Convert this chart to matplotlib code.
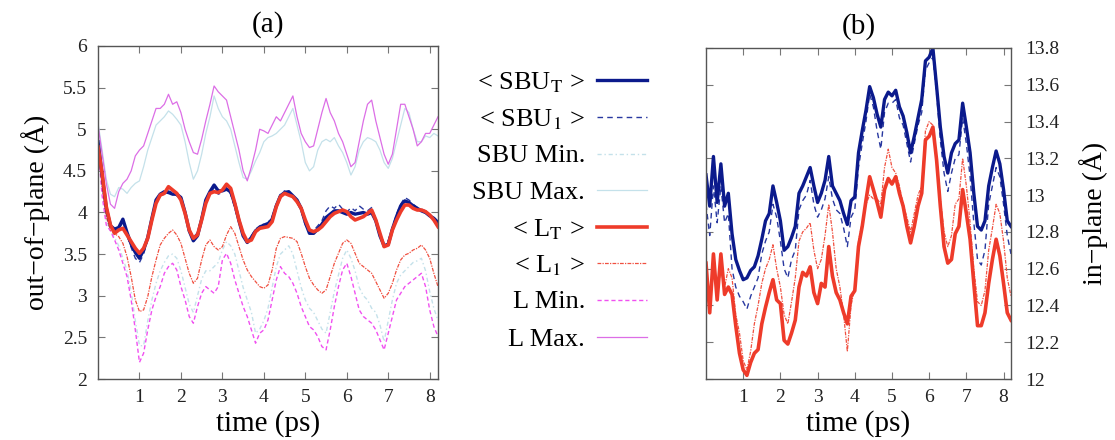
import numpy as np
import matplotlib
matplotlib.use("Agg")
import matplotlib.pyplot as plt
from matplotlib.lines import Line2D
from matplotlib.ticker import FixedLocator, FuncFormatter

plt.rcParams['font.family'] = ['Liberation Serif', 'DejaVu Serif']
plt.rcParams['mathtext.fontset'] = 'stix'

# time axis (ps), 0.1 ps sampling
time = np.round(np.arange(0, 8.21, 0.1), 1)

# ---------------- panel (a): out-of-plane ----------------
a_sbu_T = [4.85, 4.45, 4.05, 3.84, 3.80, 3.82, 3.92, 3.76, 3.62, 3.52,
           3.45, 3.55, 3.70, 3.93, 4.15, 4.22, 4.25, 4.24, 4.22, 4.22,
           4.18, 4.00, 3.78, 3.66, 3.72, 3.92, 4.15, 4.25, 4.33, 4.26,
           4.26, 4.28, 4.25, 4.10, 3.90, 3.72, 3.64, 3.70, 3.78, 3.82,
           3.85, 3.86, 3.92, 4.08, 4.20, 4.24, 4.25, 4.20, 4.15, 4.05,
           3.88, 3.75, 3.75, 3.80, 3.86, 3.94, 3.98, 4.02, 4.02, 4.00,
           3.98, 4.00, 3.98, 3.99, 4.00, 3.98, 4.00, 3.90, 3.72, 3.60,
           3.62, 3.80, 3.95, 4.08, 4.14, 4.12, 4.08, 4.05, 4.02, 4.00,
           3.96, 3.93, 3.88]
a_sbu_1 = [4.82, 4.40, 4.02, 3.82, 3.78, 3.80, 3.88, 3.72, 3.58, 3.45,
           3.40, 3.50, 3.68, 3.92, 4.12, 4.20, 4.22, 4.26, 4.24, 4.20,
           4.16, 3.98, 3.80, 3.70, 3.76, 3.95, 4.12, 4.22, 4.30, 4.22,
           4.24, 4.30, 4.22, 4.05, 3.88, 3.74, 3.66, 3.72, 3.80, 3.84,
           3.86, 3.88, 3.95, 4.10, 4.22, 4.26, 4.22, 4.18, 4.12, 4.02,
           3.85, 3.76, 3.78, 3.84, 3.90, 4.02, 4.08, 4.05, 4.10, 4.04,
           4.00, 4.06, 4.02, 4.08, 4.04, 4.02, 4.06, 3.92, 3.75, 3.62,
           3.66, 3.82, 3.98, 4.10, 4.18, 4.15, 4.10, 4.06, 4.04, 4.02,
           3.98, 3.92, 3.86]
a_sbu_min = [4.80, 4.30, 3.90, 3.78, 3.70, 3.60, 3.45, 3.30, 3.05, 2.70,
             2.40, 2.40, 2.70, 2.95, 3.15, 3.30, 3.40, 3.48, 3.50, 3.45,
             3.30, 3.10, 2.90, 2.80, 3.00, 3.20, 3.30, 3.30, 3.35, 3.40,
             3.55, 3.65, 3.60, 3.50, 3.30, 3.10, 2.95, 2.80, 2.55, 2.60,
             2.70, 2.85, 3.10, 3.35, 3.50, 3.55, 3.60, 3.50, 3.30, 3.10,
             2.95, 2.85, 2.80, 2.70, 2.60, 2.55, 2.80, 3.05, 3.25, 3.45,
             3.55, 3.45, 3.30, 3.10, 3.00, 2.95, 2.85, 2.80, 2.65, 2.45,
             2.70, 2.95, 3.15, 3.25, 3.30, 3.35, 3.40, 3.42, 3.45, 3.30,
             3.05, 2.85, 2.70]
a_sbu_max = [5.08, 4.75, 4.40, 4.22, 4.19, 4.30, 4.28, 4.23, 4.30, 4.35,
             4.38, 4.55, 4.75, 4.90, 5.05, 5.10, 5.15, 5.22, 5.18, 5.12,
             5.05, 4.85, 4.60, 4.40, 4.50, 4.70, 4.95, 5.15, 5.40, 5.25,
             5.15, 5.10, 5.00, 4.80, 4.60, 4.42, 4.40, 4.50, 4.62, 4.72,
             4.85, 4.90, 4.92, 4.95, 5.00, 5.05, 5.15, 5.25, 5.05, 4.85,
             4.60, 4.50, 4.55, 4.75, 4.85, 4.88, 4.85, 4.90, 4.80, 4.72,
             4.60, 4.45, 4.55, 4.75, 4.85, 4.90, 4.88, 4.85, 4.75, 4.60,
             4.53, 4.65, 4.85, 5.05, 5.25, 5.20, 5.00, 4.85, 4.85, 4.92,
             4.90, 4.95, 4.92]
a_L_T = [4.79, 4.47, 4.07, 3.85, 3.75, 3.79, 3.81, 3.73, 3.65, 3.57,
         3.51, 3.57, 3.69, 3.91, 4.11, 4.21, 4.23, 4.31, 4.27, 4.23,
         4.15, 3.99, 3.79, 3.69, 3.73, 3.91, 4.11, 4.23, 4.25, 4.24,
         4.27, 4.34, 4.29, 4.11, 3.91, 3.75, 3.65, 3.67, 3.77, 3.81,
         3.82, 3.83, 3.89, 4.07, 4.19, 4.23, 4.21, 4.19, 4.13, 4.05,
         3.91, 3.79, 3.77, 3.79, 3.83, 3.89, 3.95, 3.99, 4.01, 4.03,
         4.01, 3.95, 3.91, 3.93, 3.95, 3.99, 4.03, 3.91, 3.75, 3.59,
         3.61, 3.79, 3.91, 4.01, 4.09, 4.09, 4.05, 4.03, 4.03, 4.01,
         3.97, 3.91, 3.83]
a_L_1 = [4.83, 4.31, 3.95, 3.79, 3.75, 3.71, 3.63, 3.47, 3.23, 2.95,
         2.81, 2.83, 2.99, 3.23, 3.43, 3.61, 3.69, 3.75, 3.79, 3.73,
         3.63, 3.45, 3.27, 3.15, 3.21, 3.43, 3.61, 3.67, 3.59, 3.55,
         3.59, 3.73, 3.83, 3.75, 3.59, 3.43, 3.31, 3.23, 3.17, 3.11,
         3.09, 3.13, 3.31, 3.57, 3.69, 3.71, 3.70, 3.69, 3.65, 3.51,
         3.35, 3.21, 3.13, 3.07, 3.03, 3.07, 3.23, 3.39, 3.51, 3.63,
         3.67, 3.63, 3.51, 3.39, 3.35, 3.31, 3.27, 3.17, 3.07, 2.97,
         3.03, 3.15, 3.31, 3.43, 3.49, 3.51, 3.55, 3.57, 3.61, 3.55,
         3.45, 3.27, 3.11]
a_L_min = [4.80, 4.20, 3.85, 3.78, 3.67, 3.55, 3.39, 3.23, 2.95, 2.59,
           2.20, 2.31, 2.59, 2.83, 2.99, 3.11, 3.27, 3.35, 3.39, 3.31,
           3.11, 2.95, 2.75, 2.67, 2.87, 3.03, 3.11, 3.07, 3.03, 3.11,
           3.43, 3.51, 3.39, 3.19, 3.03, 2.87, 2.75, 2.59, 2.43, 2.55,
           2.59, 2.71, 2.95, 3.19, 3.35, 3.27, 3.23, 3.15, 3.03, 2.87,
           2.75, 2.63, 2.59, 2.51, 2.39, 2.35, 2.59, 2.87, 3.11, 3.31,
           3.39, 3.23, 3.03, 2.83, 2.75, 2.71, 2.67, 2.59, 2.47, 2.35,
           2.55, 2.75, 2.95, 3.03, 3.11, 3.15, 3.19, 3.23, 3.27, 3.11,
           2.83, 2.63, 2.51]
a_L_max = [5.05, 4.70, 4.35, 4.10, 4.05, 4.25, 4.35, 4.40, 4.50, 4.68,
           4.75, 4.80, 4.95, 5.10, 5.25, 5.25, 5.30, 5.42, 5.30, 5.33,
           5.20, 5.00, 4.85, 4.72, 4.70, 4.88, 5.10, 5.30, 5.52, 5.45,
           5.40, 5.35, 5.15, 4.95, 4.75, 4.50, 4.38, 4.55, 4.75, 5.00,
           4.98, 4.95, 5.05, 5.15, 5.10, 5.20, 5.30, 5.40, 5.15, 4.95,
           4.85, 4.78, 4.80, 5.00, 5.20, 5.37, 5.20, 5.10, 4.95, 4.85,
           4.70, 4.55, 4.60, 4.85, 5.10, 5.30, 5.35, 5.10, 4.90, 4.70,
           4.58, 4.70, 5.00, 5.30, 5.30, 5.15, 5.00, 4.80, 4.85, 4.95,
           4.95, 5.05, 5.15]

# ---------------- panel (b): in-plane ----------------
b_sbu_T = [13.11, 12.94, 13.21, 12.96, 13.17, 12.94, 13.01, 12.79, 12.65, 12.59,
           12.54, 12.55, 12.59, 12.61, 12.67, 12.76, 12.86, 12.90, 13.05, 12.96,
           12.86, 12.70, 12.72, 12.77, 12.83, 13.01, 13.05, 13.10, 13.15, 13.05,
           12.96, 13.01, 13.08, 13.21, 13.05, 13.01, 12.97, 12.90, 12.84, 12.97,
           12.99, 13.23, 13.35, 13.46, 13.59, 13.53, 13.44, 13.37, 13.52, 13.56,
           13.54, 13.57, 13.48, 13.43, 13.34, 13.23, 13.32, 13.42, 13.52, 13.73,
           13.75, 13.80, 13.59, 13.37, 13.21, 13.12, 13.23, 13.28, 13.30, 13.50,
           13.37, 13.23, 13.01, 12.83, 12.81, 12.86, 13.05, 13.15, 13.24, 13.17,
           13.03, 12.86, 12.83]
b_sbu_1 = [12.95, 12.78, 13.05, 12.85, 13.05, 12.85, 12.90, 12.60, 12.50, 12.45,
           12.42, 12.38, 12.45, 12.50, 12.55, 12.68, 12.75, 12.80, 12.95, 12.88,
           12.75, 12.60, 12.55, 12.65, 12.70, 12.92, 12.97, 13.00, 13.08, 12.95,
           12.88, 12.92, 12.98, 13.10, 12.98, 12.92, 12.90, 12.82, 12.72, 12.88,
           12.92, 13.15, 13.28, 13.40, 13.55, 13.48, 13.35, 13.25, 13.45, 13.50,
           13.50, 13.52, 13.42, 13.38, 13.28, 13.18, 13.28, 13.38, 13.45, 13.68,
           13.72, 13.75, 13.55, 13.30, 13.12, 13.02, 13.12, 13.20, 13.22, 13.42,
           13.28, 13.10, 12.85, 12.65, 12.62, 12.70, 12.95, 13.05, 13.15, 13.10,
           12.95, 12.78, 12.68]
b_L_T = [12.63, 12.36, 12.68, 12.43, 12.68, 12.46, 12.50, 12.46, 12.29, 12.14,
         12.05, 12.02, 12.09, 12.14, 12.16, 12.30, 12.39, 12.47, 12.54, 12.43,
         12.41, 12.21, 12.19, 12.25, 12.32, 12.50, 12.58, 12.56, 12.61, 12.47,
         12.41, 12.52, 12.50, 12.72, 12.56, 12.47, 12.43, 12.36, 12.30, 12.45,
         12.48, 12.72, 12.83, 12.97, 13.10, 13.03, 12.96, 12.88, 13.03, 13.09,
         13.06, 13.10, 13.01, 12.94, 12.83, 12.74, 12.83, 12.94, 13.01, 13.30,
         13.32, 13.37, 13.19, 12.94, 12.72, 12.63, 12.65, 12.79, 12.83, 13.03,
         12.90, 12.76, 12.52, 12.29, 12.29, 12.36, 12.52, 12.65, 12.76, 12.67,
         12.52, 12.36, 12.32]
b_L_1 = [12.60, 12.40, 12.62, 12.45, 12.60, 12.50, 12.60, 12.55, 12.35, 12.25,
         12.10, 12.05, 12.15, 12.30, 12.40, 12.52, 12.60, 12.65, 12.73, 12.60,
         12.50, 12.35, 12.30, 12.42, 12.55, 12.75, 12.80, 12.82, 12.85, 12.70,
         12.60, 12.65, 12.78, 12.95, 12.80, 12.60, 12.50, 12.35, 12.15, 12.40,
         12.50, 12.75, 12.85, 12.95, 13.00, 12.98, 12.98, 12.95, 13.15, 13.25,
         13.15, 13.12, 13.05, 12.95, 12.88, 12.80, 12.90, 13.00, 13.05, 13.35,
         13.40, 13.38, 13.20, 12.98, 12.80, 12.72, 12.78, 12.95, 12.98, 13.20,
         13.05, 12.85, 12.60, 12.42, 12.40, 12.48, 12.70, 12.82, 12.95, 12.90,
         12.75, 12.55, 12.45]

# tick values
a_yticks = [2, 2.5, 3, 3.5, 4, 4.5, 5, 5.5, 6]
b_yticks = [12, 12.2, 12.4, 12.6, 12.8, 13, 13.2, 13.4, 13.6, 13.8]
xticks = [1, 2, 3, 4, 5, 6, 7, 8]

# styles
NAVY = '#0b1a8c'
RED = '#ee3b2a'
LBLUE = '#c4e1ea'
MAG = '#f050f0'
VIOLET = '#dc6ee6'

series_style = {
    'sbu_T': dict(color=NAVY, lw=2.4, ls='-'),
    'sbu_1': dict(color='#2838a0', lw=1.0, ls=(0, (4, 3))),
    'sbu_min': dict(color=LBLUE, lw=1.0, ls=(0, (3, 2, 1, 2))),
    'sbu_max': dict(color=LBLUE, lw=0.9, ls='-'),
    'L_T': dict(color=RED, lw=2.6, ls='-'),
    'L_1': dict(color='#f05040', lw=0.9, ls=(0, (3, 1, 1, 1))),
    'L_min': dict(color=MAG, lw=1.0, ls=(0, (3, 2))),
    'L_max': dict(color=VIOLET, lw=0.9, ls='-'),
}
legend_labels = [
    ('sbu_T', r'< SBU$_\mathrm{T}$ >'),
    ('sbu_1', r'< SBU$_\mathrm{1}$ >'),
    ('sbu_min', 'SBU Min.'),
    ('sbu_max', 'SBU Max.'),
    ('L_T', r'< L$_\mathrm{T}$ >'),
    ('L_1', r'< L$_\mathrm{1}$ >'),
    ('L_min', 'L Min.'),
    ('L_max', 'L Max.'),
]

W, H = 1115, 440
fig = plt.figure(figsize=(W / 100, H / 100), dpi=100)
axa = fig.add_axes([98 / W, 1 - 379 / H, (438 - 98) / W, (379 - 46) / H])
axb = fig.add_axes([706 / W, 1 - 379 / H, (1011 - 706) / W, (379 - 48) / H])

# panel (a) drawing order: thin first, thick last
a_data = {'sbu_min': a_sbu_min, 'L_min': a_L_min, 'sbu_max': a_sbu_max,
          'L_max': a_L_max, 'L_1': a_L_1, 'sbu_1': a_sbu_1,
          'sbu_T': a_sbu_T, 'L_T': a_L_T}
for key, vals in a_data.items():
    axa.plot(time, vals, **series_style[key])

b_data = {'sbu_1': b_sbu_1, 'L_1': b_L_1, 'L_T': b_L_T, 'sbu_T': b_sbu_T}
for key, vals in b_data.items():
    axb.plot(time, vals, **series_style[key])


def fmt(v, pos):
    return '%g' % v


for ax in (axa, axb):
    ax.set_xlim(0, 8.2)
    ax.xaxis.set_major_locator(FixedLocator(xticks))
    ax.tick_params(direction='in', length=5, width=0.8, top=True, right=True,
                   left=True, bottom=True, labelsize=14, colors='#222222',
                   color='#777777')
    ax.tick_params(axis='x', pad=7)
    for sp in ax.spines.values():
        sp.set_color('#555555')
        sp.set_linewidth(1.0)
    ax.set_xlabel('time (ps)', fontsize=21, labelpad=3)

axa.set_ylim(2, 6)
axa.yaxis.set_major_locator(FixedLocator(a_yticks))
axa.yaxis.set_major_formatter(FuncFormatter(fmt))
axa.tick_params(axis='y', pad=8)
axa.set_ylabel('out\u2212of\u2212plane (\u00c5)', fontsize=20, labelpad=9)
axa.set_title('(a)', fontsize=21, pad=10)

axb.set_ylim(12, 13.8)
axb.yaxis.set_major_locator(FixedLocator(b_yticks))
axb.yaxis.set_major_formatter(FuncFormatter(fmt))
axb.yaxis.tick_right()
axb.tick_params(axis='y', left=True, right=True, labelleft=False,
                labelright=True, pad=10)
axb.yaxis.set_label_position('right')
axb.set_ylabel('in\u2212plane (\u00c5)', fontsize=20, labelpad=14, rotation=90)
axb.set_title('(b)', fontsize=21, pad=10)

# legend in the middle, text right aligned
row_y = [80, 117, 154, 190, 227, 263, 300, 337]
for (key, label), y in zip(legend_labels, row_y):
    yf = 1 - y / H
    fig.text(585 / W, yf, label, ha='right', va='center_baseline', fontsize=19)
    st = series_style[key]
    fig.add_artist(Line2D([597 / W, 647 / W], [yf, yf], transform=fig.transFigure,
                          color=st['color'], lw=st['lw'], ls=st['ls']))

fig.savefig('out.png', dpi=100)
